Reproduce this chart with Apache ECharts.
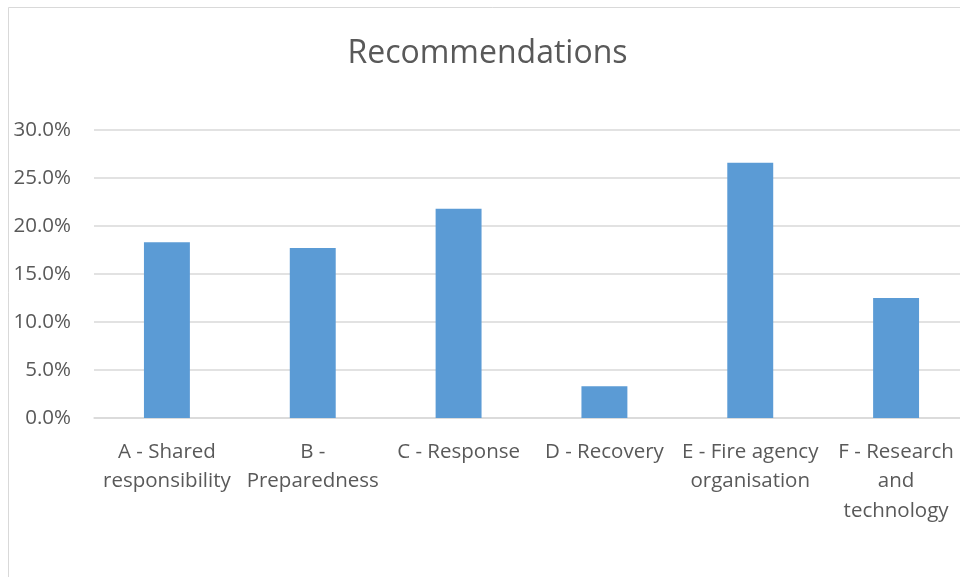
<!DOCTYPE html>
<html>
<head>
<meta charset="utf-8">
<script src="https://cdn.jsdelivr.net/npm/echarts@6/dist/echarts.min.js"></script>
<style>html,body{margin:0;padding:0;background:#fff;overflow:hidden;width:960px;height:577px}#c{width:975px;height:577px}</style>
</head>
<body>
<div id="c"></div>
<script>
const titleText = 'Recommendations';
const categories = ['A - Shared\nresponsibility', 'B -\nPreparedness', 'C - Response', 'D - Recovery', 'E - Fire agency\norganisation', 'F - Research\nand\ntechnology'];
const values = [0.183, 0.177, 0.218, 0.033, 0.266, 0.125];
const yMin = 0, yMax = 0.30, yStep = 0.05;

const chart = echarts.init(document.getElementById('c'), null, {renderer: 'canvas'});
const font = 'Open Sans';
chart.setOption({
  animation: false,
  backgroundColor: '#fff',
  graphic: [{
    type: 'rect', silent: true, z: -10,
    shape: {x: 8.5, y: 7.5, width: 1200, height: 1200},
    style: {fill: '#fff', stroke: '#d9d9d9', lineWidth: 1}
  }],
  title: {
    text: titleText, left: 'center', top: 33,
    textStyle: {fontFamily: font, fontSize: 32, fontWeight: 'normal', color: '#595959'}
  },
  grid: {left: 94, right: 6, top: 130, bottom: 159, containLabel: false},
  xAxis: {
    type: 'category', data: categories,
    axisLine: {show: true, lineStyle: {color: '#d9d9d9', width: 1.5}},
    axisTick: {show: false},
    axisLabel: {fontFamily: font, fontSize: 20.5, color: '#595959', margin: 19, lineHeight: 29.5, interval: 0}
  },
  yAxis: {
    type: 'value', min: yMin, max: yMax, interval: yStep,
    axisLine: {show: false}, axisTick: {show: false},
    splitLine: {lineStyle: {color: '#d9d9d9', width: 1.5}},
    axisLabel: {fontFamily: font, fontSize: 20.5, color: '#595959', margin: 23,
      formatter: v => (v * 100).toFixed(1) + '%'}
  },
  series: [{
    type: 'bar', data: values, barWidth: '31.5%',
    itemStyle: {color: '#5b9bd5'}
  }]
});
</script>
</body>
</html>
